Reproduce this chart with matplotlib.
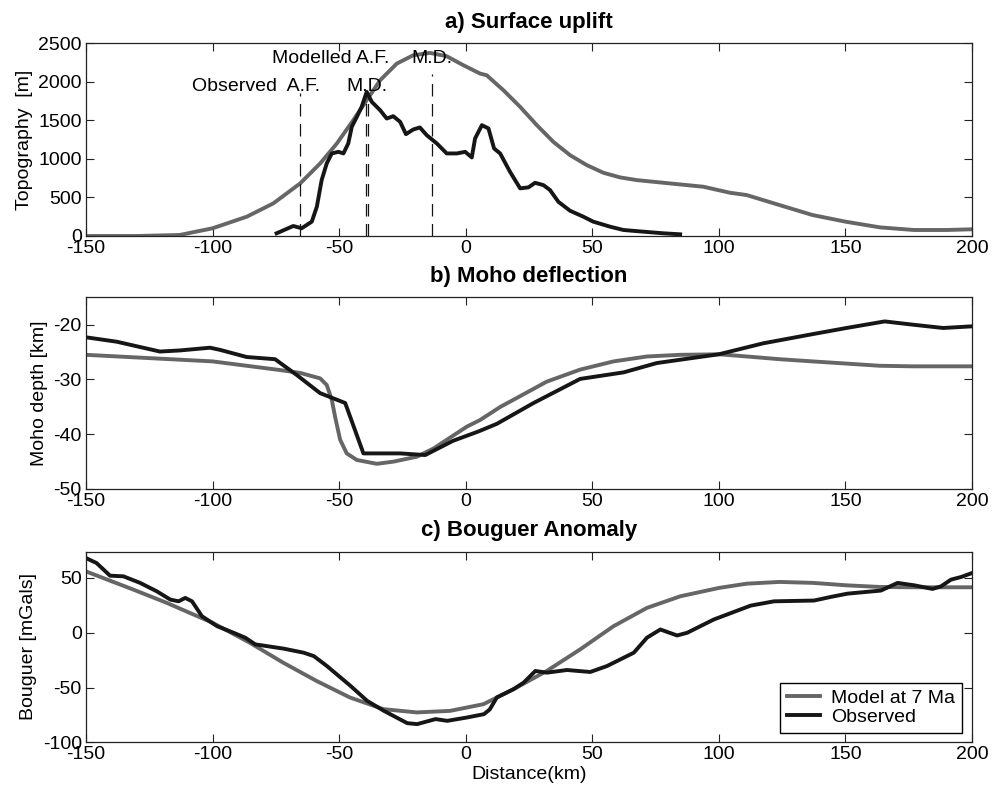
import numpy as np
import matplotlib
matplotlib.use("Agg")
import matplotlib.pyplot as plt

plt.rcParams['font.family'] = ['Liberation Sans', 'DejaVu Sans']
plt.rcParams['axes.unicode_minus'] = False

GREY = "#666666"
BLACK = "#161616"

# a) surface uplift -- model
topo_mod_x = [-150, -130, -113, -100, -86.5, -76, -65.4, -57.5, -50.9, -44.4, -39.1, -33.8,
              -27.2, -20.7, -14.1, -7.5, -0.9, 5.7, 8.3, 14.9, 21.5, 28.1, 34.6, 41.2,
              47.8, 54.4, 61, 67.6, 80.7, 93.9, 104.4, 111, 124, 137, 150, 163.6, 177, 190, 200]
topo_mod_y = [0, 0, 13, 100, 250, 423, 682, 941, 1200, 1503, 1762, 2021,
              2237, 2345, 2375, 2332, 2215, 2107, 2085, 1891, 1675, 1438, 1222, 1049,
              920, 820, 760, 725, 682, 639, 561, 531, 401, 272, 186, 112, 78, 78, 87]

# a) surface uplift -- observed
topo_obs_x = [-74.7, -68.1, -64.8, -60.8, -58.8, -56.9, -54.9, -52.9, -50.3, -48.3, -46.4,
              -45, -43, -41.1, -39.1, -37.1, -33.8, -31.2, -28.6, -25.9, -23.6, -20.7,
              -18.1, -15.4, -11.4, -7.5, -3.5, -0.2, 2.4, 3.7, 6.4, 9, 11.2, 13.6, 17.5,
              21.5, 24.8, 27.4, 30.7, 33.3, 36.6, 41.2, 46.5, 50.4, 57, 62.3, 70.2, 78.1, 84.7]
topo_obs_y = [35, 130, 100, 186, 380, 725, 941, 1071, 1092, 1071, 1200,
              1416, 1546, 1675, 1870, 1740, 1632, 1524, 1554, 1481, 1321, 1382,
              1408, 1308, 1200, 1071, 1071, 1092, 1019, 1265, 1438, 1395, 1136, 1071, 833,
              618, 631, 690, 660, 596, 444, 328, 250, 186, 121, 78, 56, 35, 22]

# fault / detachment markers: x position, top of dashed line
mark_x = [-65.4, -39.4, -38.6, -13.2]
mark_top = [1850, 1800, 1750, 2100]

# b) Moho deflection
moho_mod_x = [-150, -125, -100, -74.7, -65.4, -57.5, -54.9, -52.9, -51.6, -49.6, -47, -43,
              -35.1, -28.5, -19.3, -12.7, 0.5, 5.7, 13.7, 18.9, 32, 45.2, 58.4, 71.6, 84.8,
              100, 111, 124, 137, 150.4, 163.6, 176.7, 200]
moho_mod_y = [-25.5, -26.1, -26.7, -28.2, -28.8, -29.8, -31.0, -33.7, -36.8, -41.0, -43.5, -44.7,
              -45.4, -45.0, -44.1, -42.6, -38.6, -37.4, -35.0, -33.7, -30.4, -28.2, -26.7, -25.8, -25.5,
              -25.4, -25.8, -26.3, -26.7, -27.1, -27.5, -27.6, -27.6]

moho_obs_x = [-150, -137.9, -120.8, -112.9, -101, -97, -86.5, -75.3, -66.7, -57.5, -47.6,
              -40.4, -25.9, -16, -5, 5, 12.3, 26.8, 45.2, 62.4, 75.5, 100, 117.5, 137.3,
              150.4, 165.5, 176.7, 188.6, 200]
moho_obs_y = [-22.3, -23.1, -24.9, -24.7, -24.2, -24.6, -25.9, -26.3, -29.2, -32.5, -34.3,
              -43.5, -43.5, -43.8, -41.2, -39.5, -38.1, -34.3, -29.9, -28.7, -27.0, -25.4, -23.4, -21.7,
              -20.6, -19.4, -20.0, -20.6, -20.3]

# c) Bouguer anomaly
boug_mod_x = [-150, -131.3, -118.1, -100, -85.3, -72.1, -58.9, -45.8, -32.6, -19.4, -6.2, 7,
              18.9, 32, 45.2, 58.4, 71.6, 84.8, 100, 111, 124, 137.3, 150.4, 163.6, 176.7, 200]
boug_mod_y = [56, 39.4, 27.3, 9.1, -9.1, -27.3, -44, -59, -69.7, -72.7, -71.3, -65.2,
              -51.5, -34.9, -15.2, 6, 22.7, 33.3, 40.9, 44.8, 46.4, 45.5, 43.3, 41.8, 41.5, 41.5]

boug_obs_x = [-150, -145.8, -140.5, -135.2, -128.6, -122, -116.7, -113.4, -110.8, -108.1, -104.2,
              -98.2, -91.7, -87.1, -83.1, -78.5, -71.9, -64, -60, -54.8, -45.5, -38.9, -32.3,
              -23.1, -19.2, -11.9, -7.3, 0.6, 7.2, 9.5, 12.3, 18.9, 22.9, 27.5, 32.1, 40, 49.2,
              55.8, 66.4, 71.6, 76.9, 83.5, 87.5, 98, 112.6, 121.8, 137.6, 144.2, 150.8, 164,
              170.6, 177.2, 184.4, 187.8, 191.7, 195.7, 200]
boug_obs_y = [68.2, 63.6, 52.1, 51.5, 45.5, 37.8, 30.3, 28.7, 31.8, 28.7, 15.1,
              6, 0, -4.5, -10.6, -12.2, -14.5, -18.2, -21.3, -30.4, -48.5, -62.2, -71.3,
              -82.5, -83.4, -78.8, -80.4, -77.3, -74.3, -70, -59, -51.5, -45.5, -34.9, -36.4, -34.0, -35.8,
              -30.4, -18.2, -4.5, 3, -2.5, 0, 12.1, 24.8, 28.7, 29.4, 32.7, 35.7, 38.5,
              45.5, 43.3, 40.0, 42.4, 48.5, 50.9, 54.5]

FS = 14
TFS = 16

fig = plt.figure(figsize=(9.95, 8), dpi=100)
ax1 = fig.add_axes([0.0864, 0.705, 0.8905, 0.2409])
ax2 = fig.add_axes([0.0864, 0.38875, 0.8905, 0.2396])
ax3 = fig.add_axes([0.0864, 0.0721, 0.8905, 0.2383])

lw = 2.8
ax1.plot(topo_mod_x, topo_mod_y, color=GREY, lw=lw)
ax1.plot(topo_obs_x, topo_obs_y, color=BLACK, lw=lw)
for mx, mt in zip(mark_x, mark_top):
    ax1.plot([mx, mx], [0, mt], color=BLACK, lw=0.9, dashes=(10, 6))
ax1.text(-57.5, 1880, "Observed  A.F.", ha='right', fontsize=FS)
ax1.text(-39, 1880, "M.D.", ha='center', fontsize=FS)
ax1.text(-30, 2240, "Modelled A.F.", ha='right', fontsize=FS)
ax1.text(-13.3, 2240, "M.D.", ha='center', fontsize=FS)
ax1.set_ylim(0, 2500)
ax1.set_yticks([0, 500, 1000, 1500, 2000, 2500])
ax1.set_ylabel("Topography  [m]", fontsize=FS)
ax1.set_title("a) Surface uplift", fontsize=TFS, fontweight='bold', pad=11)

ax2.plot(moho_mod_x, moho_mod_y, color=GREY, lw=lw)
ax2.plot(moho_obs_x, moho_obs_y, color=BLACK, lw=lw)
ax2.set_ylim(-50, -15)
ax2.set_yticks([-50, -40, -30, -20])
ax2.set_ylabel("Moho depth [km]", fontsize=FS)
ax2.set_title("b) Moho deflection", fontsize=TFS, fontweight='bold', pad=11)

ax3.plot(boug_mod_x, boug_mod_y, color=GREY, lw=lw, label="Model at 7 Ma")
ax3.plot(boug_obs_x, boug_obs_y, color=BLACK, lw=lw, label="Observed")
ax3.set_ylim(-100, 74)
ax3.set_yticks([-100, -50, 0, 50])
ax3.set_ylabel("Bouguer [mGals]", fontsize=FS)
ax3.set_xlabel("Distance(km)", fontsize=FS, labelpad=2)
ax3.set_title("c) Bouguer Anomaly", fontsize=TFS, fontweight='bold', pad=11)
leg = ax3.legend(loc='lower right', fontsize=FS, handlelength=1.7, fancybox=False,
                 framealpha=1, edgecolor='black', borderaxespad=0.5, borderpad=0.35,
                 labelspacing=0.05, handletextpad=0.6)
leg.get_frame().set_linewidth(1.0)

for ax in (ax1, ax2, ax3):
    ax.set_xlim(-150, 200)
    ax.set_xticks([-150, -100, -50, 0, 50, 100, 150, 200])
    ax.tick_params(direction='in', top=True, right=True, length=6, width=0.8,
                   labelsize=FS, pad=3, colors='#222222', labelcolor='black')
    for sp in ax.spines.values():
        sp.set_linewidth(0.9)
        sp.set_color('#222222')

fig.savefig("out.png", dpi=100)
